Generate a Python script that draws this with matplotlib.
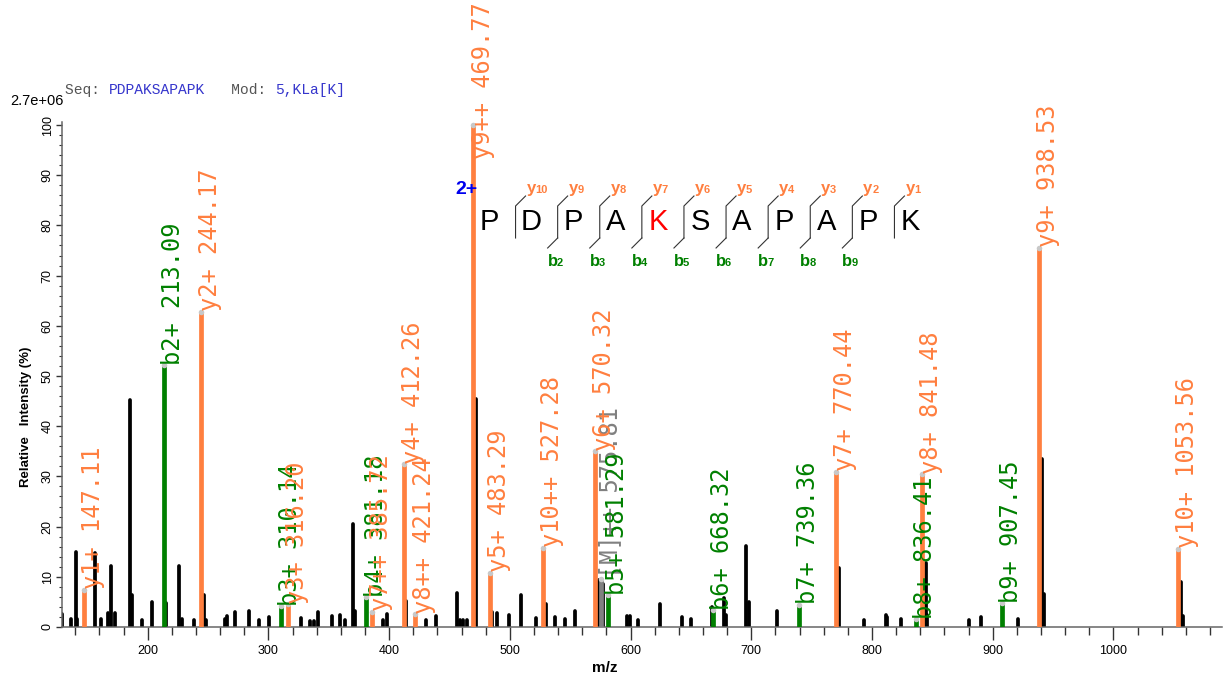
import matplotlib
matplotlib.use("Agg")
import matplotlib.pyplot as plt
from matplotlib.ticker import MultipleLocator
from matplotlib.lines import Line2D

plt.rcParams['font.family'] = ['Liberation Sans', 'DejaVu Sans']

# ---------------- data ----------------
sequence = "PDPAKSAPAPK"
modified_site = 5            # 1-based position of the modified residue
mod_text = "5,KLa[K]"
precursor_charge = "2+"
base_intensity = "2.7e+06"

# unassigned peaks: m/z and relative intensity (%)
other_mz = [129.4, 136.8, 141.0, 141.8, 156.2, 161.7, 167.3, 169.2, 172.8, 185.0,
            186.6, 194.9, 203.2, 215.4, 226.2, 228.7, 238.1, 246.4, 248.0, 264.1,
            266.0, 272.4, 284.0, 292.0, 300.9, 326.9, 334.6, 337.4, 341.3, 352.6,
            359.6, 363.1, 370.0, 372.0, 395.3, 398.1, 414.0, 430.5, 438.5, 456.0,
            458.4, 461.5, 464.6, 472.1, 485.6, 489.5, 499.3, 509.5, 521.4, 530.0,
            537.2, 545.5, 553.8, 574.0, 577.6, 597.4, 599.4, 606.6, 624.3, 642.6,
            650.1, 667.6, 677.8, 679.1, 696.0, 697.9, 721.7, 772.5, 793.3, 811.3,
            812.4, 823.8, 844.5, 845.6, 880.2, 890.2, 921.1, 941.2, 942.3, 1056.4,
            1057.5]
other_int = [2.5, 1.6, 15.0, 1.5, 14.8, 1.5, 2.7, 12.2, 2.7, 45.2,
             6.4, 1.3, 4.9, 4.8, 12.2, 1.6, 1.3, 6.4, 1.3, 1.5,
             2.1, 2.9, 3.1, 1.4, 1.9, 1.7, 1.1, 1.1, 3.0, 2.1,
             2.3, 1.3, 20.5, 3.2, 1.3, 2.6, 5.1, 1.3, 2.1, 6.7,
             1.3, 1.4, 1.3, 45.5, 3.0, 2.7, 2.3, 6.3, 1.8, 4.5,
             2.0, 1.5, 3.1, 9.4, 8.5, 2.1, 2.2, 1.3, 4.5, 1.9,
             1.5, 4.0, 5.8, 2.3, 16.1, 5.0, 3.1, 11.7, 1.3, 2.3,
             1.9, 1.5, 12.8, 2.3, 1.3, 1.9, 1.5, 33.4, 6.6, 9.0,
             2.2]

# b-ion matches
b_mz = [213.09, 310.14, 381.18, 581.29, 668.32, 739.36, 836.41, 907.45]
b_int = [52.1, 4.1, 5.9, 6.3, 3.3, 4.4, 1.5, 4.7]
b_labels = ["b2+", "b3+", "b4+", "b5+", "b6+", "b7+", "b8+", "b9+"]

# y-ion matches
y_mz = [147.11, 244.17, 316.20, 385.72, 412.26, 421.24, 469.77, 483.29,
        527.28, 570.32, 770.44, 841.48, 938.53, 1053.56]
y_int = [7.4, 62.8, 4.5, 3.0, 32.4, 2.5, 100.0, 10.8,
         15.7, 35.0, 30.9, 30.4, 75.5, 15.6]
y_labels = ["y1+", "y2+", "y3+", "y7++", "y4+", "y8++", "y9++", "y5+",
            "y10++", "y6+", "y7+", "y8+", "y9+", "y10+"]

# precursor match
prec_mz = [575.81]
prec_int = [9.6]
prec_labels = ["[M]++"]

# ---------------- styling ----------------
ORANGE = "#ff7f3f"
GREEN = "#008000"
GRAY = "#808080"
DOT = "#c8c8c8"
BLUE_TXT = "#3535cc"

W, H, DPI = 1229, 684, 100
fig = plt.figure(figsize=(W / DPI, H / DPI), dpi=DPI)


def fx(px):
    return px / W


def fy(py):
    return 1 - py / H


ax = fig.add_axes([fx(62), fy(627), fx(1222) - fx(62), fy(122) - fy(627)])
ax.set_xlim(129, 1090)
ax.set_ylim(0, 100.6)

# unassigned peaks
ax.vlines(other_mz, 0, other_int, colors="black", linewidth=2.7,
          capstyle="round", zorder=2)

label_texts = []


def draw_matches(mzs, ints, labels, color, text_color):
    ax.vlines(mzs, 0, ints, colors=color, linewidth=3.4, zorder=3)
    ax.scatter(mzs, ints, s=16, color=DOT, zorder=4, linewidths=0,
               clip_on=False)
    for m, i, lab in zip(mzs, ints, labels):
        t = ax.annotate(f"{lab} {m:.2f}", xy=(m, i), xytext=(-2.0, 0.5),
                        textcoords="offset points", rotation=90,
                        ha="left", va="bottom", fontsize=17,
                        family="DejaVu Sans Mono", color=text_color,
                        annotation_clip=False, zorder=5)
        label_texts.append(t)


draw_matches(prec_mz, prec_int, prec_labels, GRAY, GRAY)
draw_matches(b_mz, b_int, b_labels, GREEN, GREEN)
draw_matches(y_mz, y_int, y_labels, ORANGE, ORANGE)

# axes look
for s in ("top", "right"):
    ax.spines[s].set_visible(False)
for s in ("left", "bottom"):
    ax.spines[s].set_color("#666666")
    ax.spines[s].set_linewidth(1.1)
ax.xaxis.set_major_locator(MultipleLocator(100))
ax.xaxis.set_minor_locator(MultipleLocator(20))
ax.yaxis.set_major_locator(MultipleLocator(10))
ax.yaxis.set_minor_locator(MultipleLocator(2))
ax.tick_params(axis="x", which="major", length=9, width=1, colors="#333333",
               labelsize=9, pad=4, labelcolor="black")
ax.tick_params(axis="x", which="minor", length=6, width=1, colors="#333333")
ax.tick_params(axis="y", which="major", length=4, width=1, colors="#333333",
               labelsize=9, pad=2, labelcolor="black")
ax.tick_params(axis="y", which="minor", length=2.5, width=0.8, colors="#333333")
for lab in ax.get_yticklabels():
    lab.set_rotation(90)
    lab.set_va("center")
    lab.set_ha("right")
ax.set_xticks([200, 300, 400, 500, 600, 700, 800, 900, 1000])

fig.text(fx(605), fy(668), "m/z", ha="center", va="center",
         fontsize=11, fontweight="bold")
fig.text(fx(26), fy(417), "Relative   Intensity (%)", rotation=90,
         ha="center", va="center", fontsize=9.5, fontweight="bold")
fig.text(fx(10), fy(101), base_intensity, ha="left", va="center", fontsize=10.5)

# header line (monospace, so pieces are placed by character count)
mono_size = 10.5
adv = 0.6 * mono_size * DPI / 72
pieces = [("Seq: ", "#555555"), (sequence, BLUE_TXT), ("   Mod: ", "#555555"),
          (mod_text, BLUE_TXT)]
n = 0
for txt, col in pieces:
    fig.text(fx(65 + n * adv), fy(90), txt, ha="left", va="center",
             fontsize=mono_size, family="Liberation Mono", color=col)
    n += len(txt)

# ---------------- fragment map ----------------
letter_x0 = 489.5
step = 42.1
letter_y = 222
fig.text(fx(466), fy(190), precursor_charge, ha="center", va="center",
         fontsize=14, fontweight="bold", color="#0000ee")
nres = len(sequence)
for i, aa in enumerate(sequence):
    col = "red" if i + 1 == modified_site else "black"
    fig.text(fx(letter_x0 + i * step), fy(letter_y), aa, ha="center",
             va="center", fontsize=21, color=col)

for i in range(nres - 1):
    xs = letter_x0 + (i + 0.5) * step + 5
    # vertical divider with the y-ion hook at top
    fig.add_artist(Line2D([fx(xs + 10), fx(xs), fx(xs)],
                          [fy(196), fy(206), fy(238)],
                          color="#333333", linewidth=0.8))
    y_num = nres - 1 - i
    fig.text(fx(xs + 11), fy(193), "y", ha="left", va="baseline",
             fontsize=12, fontweight="bold", color=ORANGE)
    fig.text(fx(xs + 20), fy(193), str(y_num), ha="left", va="baseline",
             fontsize=8, fontweight="bold", color=ORANGE)
    b_num = i + 1
    if 2 <= b_num <= nres - 2:
        fig.add_artist(Line2D([fx(xs), fx(xs - 10)], [fy(238), fy(248)],
                              color="#333333", linewidth=0.8))
        fig.text(fx(xs - 10), fy(266), "b", ha="left", va="baseline",
                 fontsize=12, fontweight="bold", color=GREEN)
        fig.text(fx(xs - 1), fy(266), str(b_num), ha="left", va="baseline",
                 fontsize=8, fontweight="bold", color=GREEN)

# keep peak labels inside the canvas
fig.canvas.draw()
renderer = fig.canvas.get_renderer()
top_px = fig.bbox.height - 2
for t in label_texts:
    bb = t.get_window_extent(renderer)
    if bb.y1 > top_px:
        dx, dy = t.xyann
        t.xyann = (dx, dy - (bb.y1 - top_px) * 72 / DPI)

fig.savefig("out.png", dpi=DPI)
